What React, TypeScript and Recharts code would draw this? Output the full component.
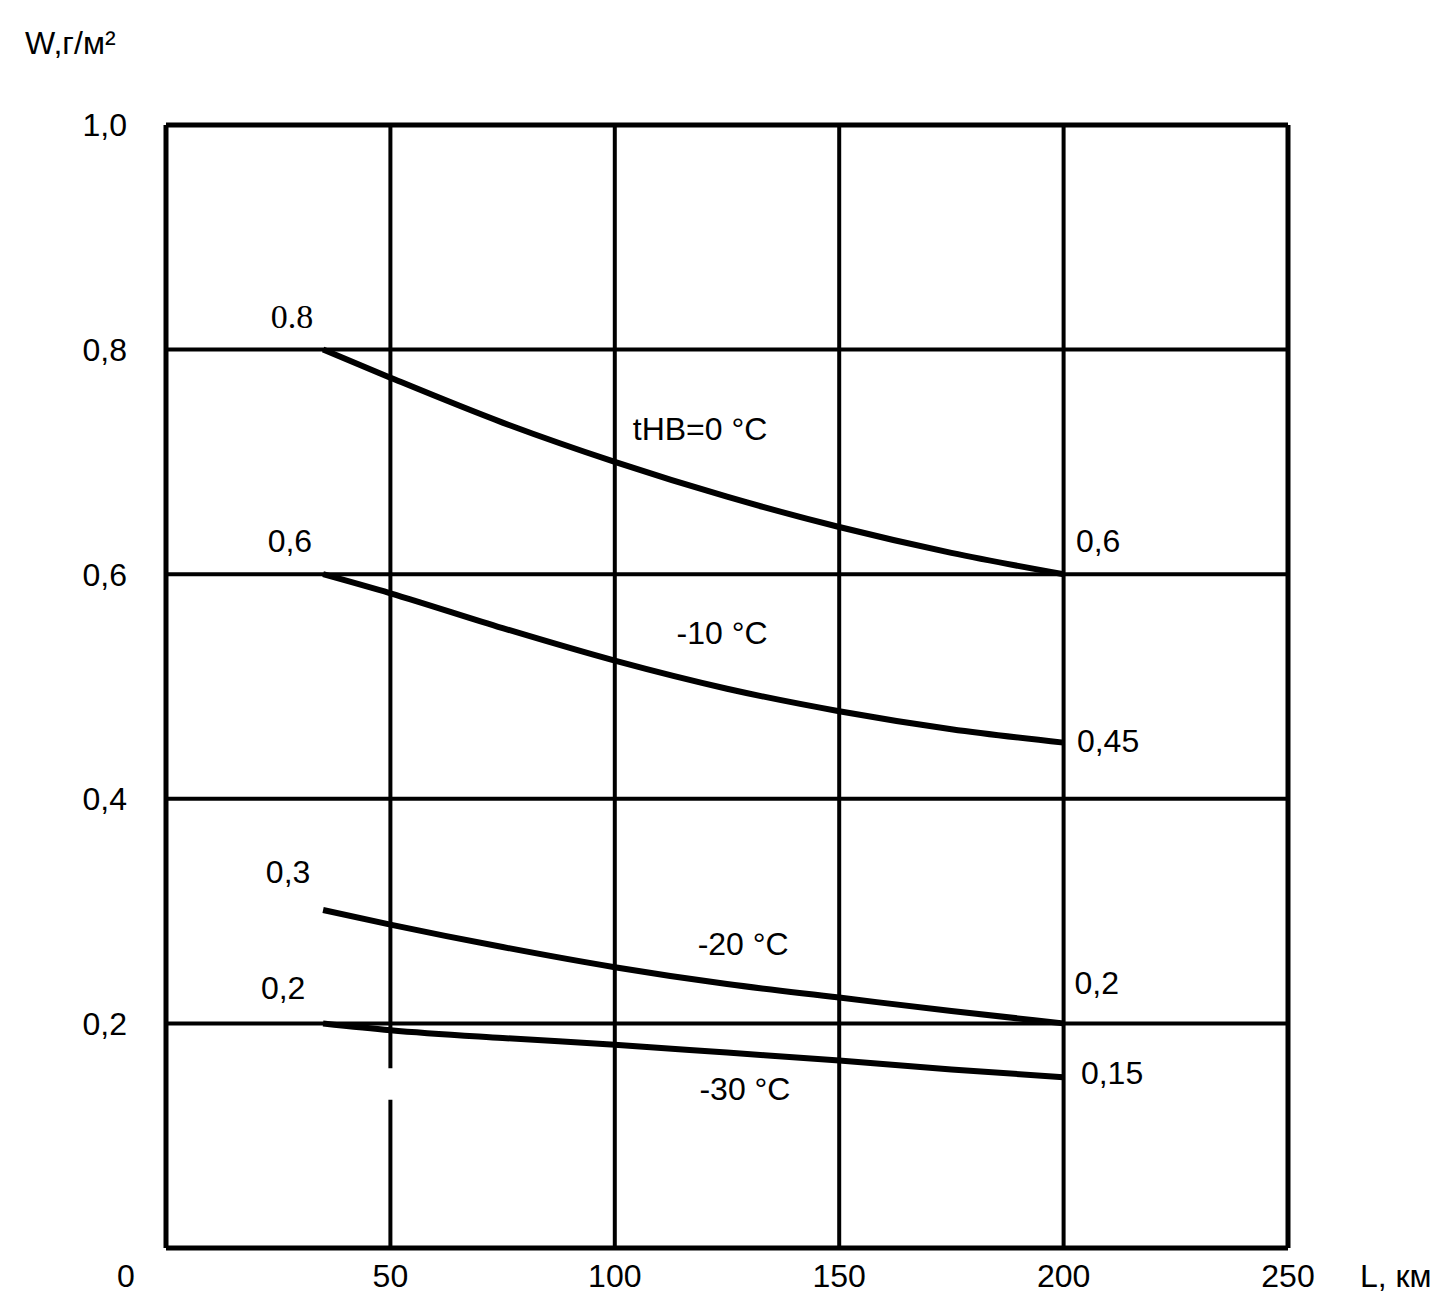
import React from 'react';
import { LineChart, Line, XAxis, YAxis, ReferenceLine, ReferenceDot } from 'recharts';

// L, km
const distances = [35, 50, 75, 100, 125, 150, 175, 200];
// W, g/m2 for each outside temperature
const w0 = [0.8, 0.775, 0.735, 0.7, 0.669, 0.642, 0.619, 0.6];
const w10 = [0.6, 0.583, 0.552, 0.523, 0.498, 0.478, 0.462, 0.45];
const w20 = [0.301, 0.288, 0.268, 0.25, 0.235, 0.223, 0.211, 0.2];
const w30 = [0.2, 0.194, 0.187, 0.181, 0.174, 0.167, 0.159, 0.152];

const xTicks = [50, 100, 150, 200, 250];
const yTicks = [0, 0.2, 0.4, 0.6, 0.8, 1.0];
const gridX = [100, 150, 200];
const gridY = [0.2, 0.4, 0.6, 0.8];

// value labels at curve ends
const endLabels = [
  { x: 28.1, y: 0.83, text: '0.8', serif: true },
  { x: 27.6, y: 0.63, text: '0,6' },
  { x: 27.2, y: 0.335, text: '0,3' },
  { x: 26.1, y: 0.232, text: '0,2' },
  { x: 207.7, y: 0.63, text: '0,6' },
  { x: 209.9, y: 0.452, text: '0,45' },
  { x: 207.4, y: 0.236, text: '0,2' },
  { x: 210.8, y: 0.156, text: '0,15' },
];
// curve names
const curveLabels = [
  { x: 119.0, y: 0.73, text: 'tНВ=0 °С' },
  { x: 123.9, y: 0.548, text: '-10 °С' },
  { x: 128.6, y: 0.271, text: '-20 °С' },
  { x: 129.0, y: 0.142, text: '-30 °С' },
];

const data = distances.map((L, i) => ({ L, w0: w0[i], w10: w10[i], w20: w20[i], w30: w30[i] }));

const FONT = '"Liberation Sans", Arial, sans-serif';
const SERIF = '"Liberation Serif", "Times New Roman", serif';

const YTick = (props: any) => {
  const { x, y, payload } = props;
  const v = payload.value;
  const isZero = v === 0;
  return (
    <text
      x={isZero ? x - 1 : x}
      y={isZero ? y + 28 : y}
      dy="0.355em"
      textAnchor={isZero ? 'middle' : 'end'}
      fontFamily={FONT}
      fontSize={32}
      fill="#000"
    >
      {isZero ? '0' : v.toFixed(1).replace('.', ',')}
    </text>
  );
};

const textShape = (text: string, serif?: boolean) => (props: any) => (
  <text
    x={props.cx}
    y={props.cy}
    dy="0.355em"
    textAnchor="middle"
    fontFamily={serif ? SERIF : FONT}
    fontSize={serif ? 34 : 32}
    fill="#000"
  >
    {text}
  </text>
);

export default function App() {
  return (
    <div style={{ position: 'absolute', left: 0, top: 0, background: '#fff' }}>
      <LineChart
        width={1453}
        height={1314}
        data={data}
        margin={{ top: 125, right: 165, left: 106, bottom: 16 }}
      >
        <XAxis
          dataKey="L"
          type="number"
          domain={[0, 250]}
          ticks={xTicks}
          axisLine={false}
          tickLine={false}
          tickSize={0}
          tickMargin={16}
          height={50}
          tick={{ fontFamily: FONT, fontSize: 32, fill: '#000' }}
          label={{
            content: (p: any) => (
              <text
                x={p.viewBox.x + p.viewBox.width + 72}
                y={p.viewBox.y + 28}
                dy="0.355em"
                fontFamily={FONT}
                fontSize={32}
                fill="#000"
              >
                L, км
              </text>
            ),
          }}
        />
        <YAxis
          type="number"
          domain={[0, 1]}
          ticks={yTicks}
          axisLine={false}
          tickLine={false}
          tickSize={0}
          tickMargin={39}
          width={60}
          tick={<YTick />}
          label={{
            content: () => (
              <text x={25} y={43} dy="0.355em" fontFamily={FONT} fontSize={32} fill="#000">
                W,г/м²
              </text>
            ),
          }}
        />
        {gridY.map((v) => (
          <ReferenceLine key={'gy' + v} y={v} stroke="#000" strokeWidth={4} />
        ))}
        {gridX.map((v) => (
          <ReferenceLine key={'gx' + v} x={v} stroke="#000" strokeWidth={4} />
        ))}
        <ReferenceLine segment={[{ x: 50, y: 0.16 }, { x: 50, y: 1 }]} stroke="#000" strokeWidth={4} />
        <ReferenceLine segment={[{ x: 50, y: 0 }, { x: 50, y: 0.132 }]} stroke="#000" strokeWidth={4} />
        <ReferenceLine x={0} stroke="#000" strokeWidth={5} />
        <ReferenceLine x={250} stroke="#000" strokeWidth={5} />
        <ReferenceLine y={0} stroke="#000" strokeWidth={5} />
        <ReferenceLine y={1} stroke="#000" strokeWidth={5} />
        <Line type="monotone" dataKey="w0" stroke="#000" strokeWidth={6} dot={false} isAnimationActive={false} />
        <Line type="monotone" dataKey="w10" stroke="#000" strokeWidth={6} dot={false} isAnimationActive={false} />
        <Line type="monotone" dataKey="w20" stroke="#000" strokeWidth={6} dot={false} isAnimationActive={false} />
        <Line type="monotone" dataKey="w30" stroke="#000" strokeWidth={6} dot={false} isAnimationActive={false} />
        {endLabels.map((l, i) => (
          <ReferenceDot key={'e' + i} x={l.x} y={l.y} r={0} shape={textShape(l.text, l.serif)} />
        ))}
        {curveLabels.map((l, i) => (
          <ReferenceDot key={'c' + i} x={l.x} y={l.y} r={0} shape={textShape(l.text)} />
        ))}
      </LineChart>
    </div>
  );
}
